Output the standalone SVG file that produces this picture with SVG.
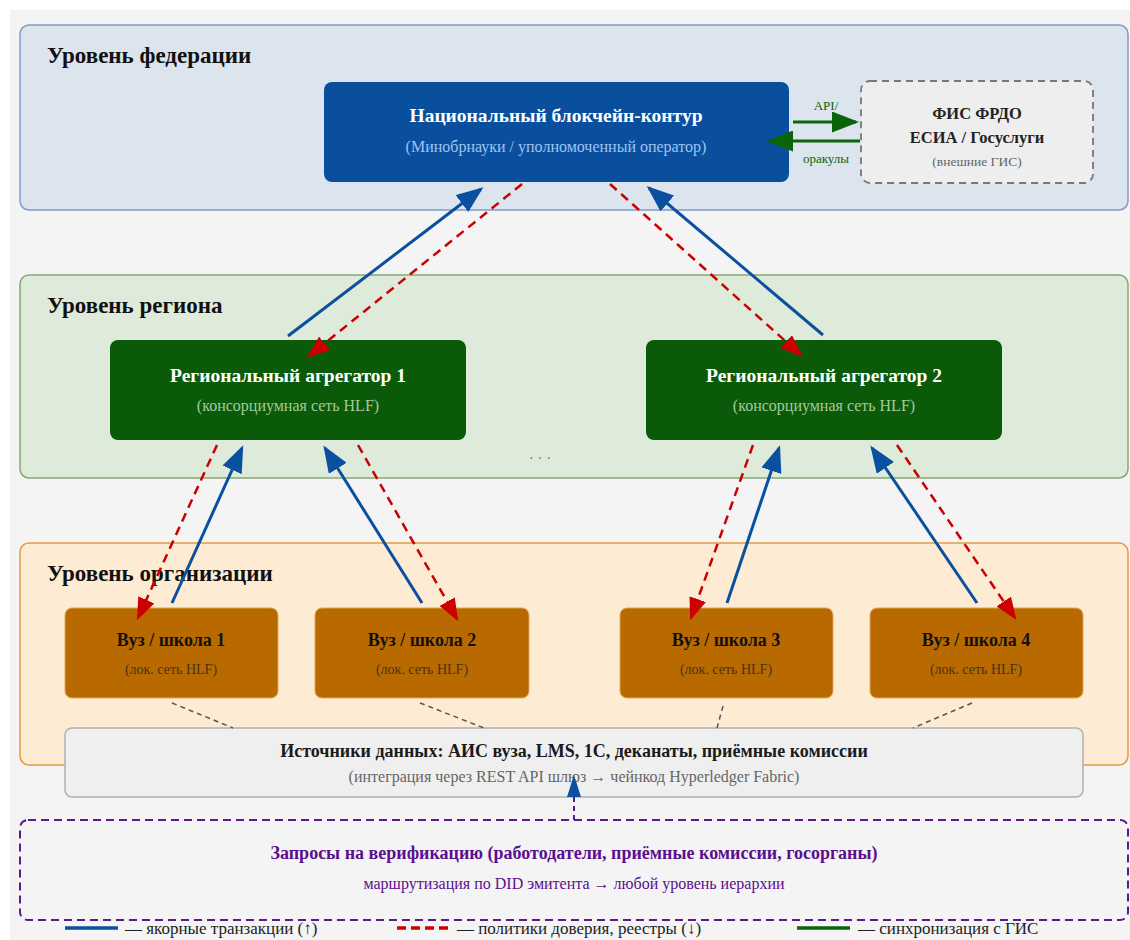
<svg xmlns="http://www.w3.org/2000/svg" width="1130" height="940" viewBox="0 0 1130 940">
<style>
text{font-family:"Liberation Serif","DejaVu Serif",serif;text-anchor:middle}
.title{font-size:23px;font-weight:bold;fill:#111;text-anchor:start}
.hb{font-size:19.5px;font-weight:bold;fill:#fff}
.sb{font-size:16px}
.sch{font-size:18px;font-weight:bold;fill:#111}
.schs{font-size:14px;fill:#4a3310}
.blue{stroke:#0b4fa0;stroke-width:3;fill:none;marker-end:url(#ab)}
.red{stroke:#cc0000;stroke-width:2.5;fill:none;stroke-dasharray:9,6;marker-end:url(#ar)}
.green{stroke:#0a640a;stroke-width:3;fill:none;marker-end:url(#ag)}
.gd{stroke:#555;stroke-width:1.5;stroke-dasharray:5,4;fill:none}
.leg{font-size:17px;fill:#222;text-anchor:start}
</style>
<defs>
<marker id="ab" markerWidth="9" markerHeight="7" refX="8" refY="3.5" orient="auto" markerUnits="strokeWidth"><path d="M0,0 L9,3.5 L0,7 z" fill="#0b4fa0"/></marker>
<marker id="ar" markerWidth="9" markerHeight="7" refX="8" refY="3.5" orient="auto" markerUnits="strokeWidth"><path d="M0,0 L9,3.5 L0,7 z" fill="#cc0000"/></marker>
<marker id="ag" markerWidth="9" markerHeight="7" refX="8" refY="3.5" orient="auto" markerUnits="strokeWidth"><path d="M0,0 L9,3.5 L0,7 z" fill="#0a640a"/></marker>
</defs>
<rect width="1130" height="940" fill="#ffffff"/>
<rect x="10" y="10" width="1120" height="930" fill="#f4f4f4"/>

<g id="level-federation">
<rect x="20" y="25" width="1108" height="185" rx="9" fill="#dce4ee" stroke="#7d9cc4" stroke-width="1.5"/>
<text class="title" x="47" y="63">Уровень федерации</text>
</g>
<g id="level-region">
<rect x="20" y="275" width="1108" height="203" rx="9" fill="#dfebda" stroke="#86a874" stroke-width="1.5"/>
<text class="title" x="47" y="313">Уровень региона</text>
</g>
<g id="level-org">
<rect x="20" y="543" width="1108" height="222" rx="9" fill="#fdebd3" stroke="#e39a40" stroke-width="1.5"/>
<text class="title" x="47" y="581">Уровень организации</text>
</g>

<g id="national">
<rect x="324" y="82" width="465" height="100" rx="8" fill="#0a4f9e"/>
<text class="hb" x="556" y="122">Национальный блокчейн-контур</text>
<text class="sb" x="556" y="152" fill="#9ec4f0">(Минобрнауки / уполномоченный оператор)</text>
</g>
<g id="gis">
<rect x="861" y="81" width="232" height="102" rx="9" fill="#eeeeee" stroke="#777" stroke-width="1.8" stroke-dasharray="7,5"/>
<text x="977" y="119" font-size="16.5" font-weight="bold" fill="#222">ФИС ФРДО</text>
<text x="977" y="143" font-size="16.5" font-weight="bold" fill="#222">ЕСИА / Госуслуги</text>
<text x="977" y="166" font-size="13.5" fill="#666">(внешние ГИС)</text>
</g>

<g id="regional-1">
<rect x="110" y="340" width="356" height="100" rx="8" fill="#0a5a0a"/>
<text class="hb" x="288" y="382">Региональный агрегатор 1</text>
<text class="sb" x="288" y="411" fill="#a0cc98">(консорциумная сеть HLF)</text>
</g>
<g id="regional-2">
<rect x="646" y="340" width="356" height="100" rx="8" fill="#0a5a0a"/>
<text class="hb" x="824" y="382">Региональный агрегатор 2</text>
<text class="sb" x="824" y="411" fill="#a0cc98">(консорциумная сеть HLF)</text>
</g>
<text x="540" y="463" font-size="15" fill="#777">· · ·</text>

<g id="school-1">
<rect x="65" y="608" width="213" height="90" rx="7" fill="#b86a00" stroke="#e0a850" stroke-width="1"/>
<text class="sch" x="171" y="646">Вуз / школа 1</text>
<text class="schs" x="171" y="674">(лок. сеть HLF)</text>
</g>
<g id="school-2">
<rect x="315" y="608" width="214" height="90" rx="7" fill="#b86a00" stroke="#e0a850" stroke-width="1"/>
<text class="sch" x="422" y="646">Вуз / школа 2</text>
<text class="schs" x="422" y="674">(лок. сеть HLF)</text>
</g>
<g id="school-3">
<rect x="620" y="608" width="213" height="90" rx="7" fill="#b86a00" stroke="#e0a850" stroke-width="1"/>
<text class="sch" x="726" y="646">Вуз / школа 3</text>
<text class="schs" x="726" y="674">(лок. сеть HLF)</text>
</g>
<g id="school-4">
<rect x="870" y="608" width="213" height="90" rx="7" fill="#b86a00" stroke="#e0a850" stroke-width="1"/>
<text class="sch" x="976" y="646">Вуз / школа 4</text>
<text class="schs" x="976" y="674">(лок. сеть HLF)</text>
</g>

<g id="data-sources">
<rect x="65" y="728" width="1018" height="69" rx="7" fill="#efefef" stroke="#b0b0b0" stroke-width="1.5"/>
<text x="574" y="757" font-size="18" font-weight="bold" fill="#1a1a1a">Источники данных: АИС вуза, LMS, 1С, деканаты, приёмные комиссии</text>
<text x="574" y="782" font-size="16" fill="#666">(интеграция через REST API шлюз → чейнкод Hyperledger Fabric)</text>
</g>

<g id="verification">
<rect x="20" y="820" width="1108" height="100" rx="8" fill="none" stroke="#5c1a8c" stroke-width="2" stroke-dasharray="8,5"/>
<text x="574" y="859" font-size="18" font-weight="bold" fill="#5a0f8f">Запросы на верификацию (работодатели, приёмные комиссии, госорганы)</text>
<text x="574" y="889" font-size="16" fill="#5a0f8f">маршрутизация по DID эмитента → любой уровень иерархии</text>
</g>

<g id="connectors">
<line class="blue" x1="288" y1="336" x2="481" y2="189"/>
<line class="red" x1="522" y1="184" x2="309" y2="356"/>
<line class="blue" x1="823" y1="335" x2="649" y2="188"/>
<line class="red" x1="610" y1="184" x2="801" y2="355"/>

<line class="blue" x1="172" y1="603" x2="242" y2="448"/>
<line class="red" x1="217" y1="445" x2="138" y2="618"/>
<line class="blue" x1="422" y1="603" x2="325" y2="448"/>
<line class="red" x1="358" y1="445" x2="457" y2="619"/>
<line class="blue" x1="727" y1="603" x2="779" y2="448"/>
<line class="red" x1="753" y1="445" x2="691" y2="618"/>
<line class="blue" x1="977" y1="603" x2="872" y2="448"/>
<line class="red" x1="897" y1="445" x2="1015" y2="618"/>

<line class="green" x1="793" y1="122" x2="856" y2="122"/>
<line class="green" x1="860" y1="141" x2="769" y2="141"/>
<text x="826" y="110" font-size="13" fill="#0a640a">API/</text>
<text x="826" y="163" font-size="13" fill="#0a640a">оракулы</text>

<line class="gd" x1="172" y1="703" x2="233" y2="728"/>
<line class="gd" x1="420" y1="703" x2="484" y2="728"/>
<line class="gd" x1="723" y1="706" x2="717" y2="728"/>
<line class="gd" x1="972" y1="703" x2="913" y2="728"/>

<line x1="574" y1="820" x2="574" y2="796" stroke="#5c1a8c" stroke-width="2" stroke-dasharray="5,4"/>
<path d="M574,775 L581,797 L567,797 z" fill="#0b4fa0"/>
</g>

<g id="legend">
<line x1="65" y1="928" x2="118" y2="928" stroke="#0b4fa0" stroke-width="3.5"/>
<text class="leg" x="125" y="934">— якорные транзакции (↑)</text>
<line x1="397" y1="928" x2="450" y2="928" stroke="#cc0000" stroke-width="3.5" stroke-dasharray="9,5"/>
<text class="leg" x="457" y="934">— политики доверия, реестры (↓)</text>
<line x1="797" y1="928" x2="850" y2="928" stroke="#0a640a" stroke-width="3.5"/>
<text class="leg" x="858" y="934">— синхронизация с ГИС</text>
</g>
</svg>
